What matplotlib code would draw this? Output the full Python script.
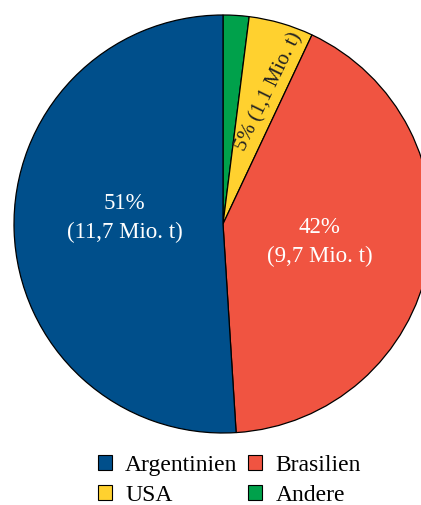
import numpy as np
import matplotlib
matplotlib.use("Agg")
import matplotlib.pyplot as plt
from matplotlib.patches import Patch

# data, clockwise from the top
laender = ["Andere", "USA", "Brasilien", "Argentinien"]
anteile = [2, 5, 42, 51]
mengen = ["", "1,1", "9,7", "11,7"]
farben = ["#00A14B", "#FFD12F", "#F05441", "#004F8B"]

plt.rcParams['font.family'] = ['Liberation Serif', 'DejaVu Serif']

fig = plt.figure(figsize=(4.21, 5.05), dpi=100)
ax = fig.add_axes([0, 0, 1, 1])
r_px = 209.0
cx, cy = 223.0, 224.0

wedges, _ = ax.pie(anteile, colors=farben, startangle=90, counterclock=False,
                   wedgeprops=dict(edgecolor='black', linewidth=0.9))
ax.set_xlim(-cx / r_px, (421 - cx) / r_px)
ax.set_ylim(-(505 - cy) / r_px, cy / r_px)
ax.set_aspect('equal')
ax.axis('off')

# small vertical nudges of the big labels
dy = {"Brasilien": 0.0, "Argentinien": 0.044}

for w, land, p, m in zip(wedges, laender, anteile, mengen):
    if not m:
        continue
    ang = (w.theta1 + w.theta2) / 2.0
    if p < 10:
        # small slice: label runs along the slice
        a = np.deg2rad(ang - 3)
        rr = 0.67
        ax.text(rr * np.cos(a), rr * np.sin(a), "%d%% (%s Mio. t)" % (p, m),
                rotation=64, ha='center', va='center', fontsize=15,
                color='#222222', rotation_mode='anchor')
    else:
        a = np.deg2rad(ang)
        rr = 0.47
        ax.text(rr * np.cos(a), rr * np.sin(a) + dy[land], "%d%%\n(%s Mio. t)" % (p, m),
                ha='center', va='center', fontsize=16.5, color='white',
                linespacing=1.5)

# legend: Argentinien, Brasilien / USA, Andere
order = [3, 1, 2, 0]
handles = [Patch(facecolor=farben[i], edgecolor='black', linewidth=0.8) for i in order]
fig.legend(handles, [laender[i] for i in order], ncol=2, frameon=False,
           loc='lower center', bbox_to_anchor=(0.545, -0.03), fontsize=17,
           handlelength=0.6, handleheight=0.6, handletextpad=0.55,
           columnspacing=0.45, labelspacing=0.4, borderaxespad=0.2)

fig.savefig("out.png", dpi=100)
